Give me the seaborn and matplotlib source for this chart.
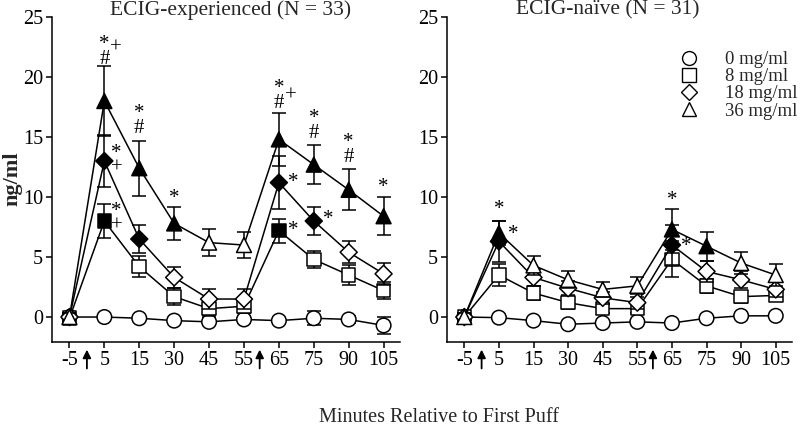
import numpy as np
import pandas as pd
import matplotlib
matplotlib.use("Agg")
import matplotlib.pyplot as plt
from matplotlib.lines import Line2D
import seaborn as sns

# ---------------- data ----------------
time_labels = ["-5", "5", "15", "30", "45", "55", "65", "75", "90", "105"]
doses = ["0 mg/ml", "8 mg/ml", "18 mg/ml", "36 mg/ml"]
dose_markers = ["o", "s", "D", "^"]

# ECIG-experienced (N = 33)
exp_0 = [0.0, 0.0, -0.1, -0.3, -0.4, -0.2, -0.3, -0.1, -0.2, -0.7]
exp_8 = [-0.1, 8.0, 4.2, 1.7, 0.7, 0.9, 7.2, 4.8, 3.5, 2.2]
exp_18 = [0.0, 13.0, 6.5, 3.3, 1.5, 1.5, 11.2, 8.0, 5.4, 3.6]
exp_36 = [0.0, 18.0, 12.4, 7.8, 6.2, 6.0, 14.8, 12.7, 10.6, 8.4]
exp_0_err = [0.2, 0.2, 0.2, 0.2, 0.3, 0.3, 0.2, 0.6, 0.3, 0.7]
exp_8_err = [0.3, 1.4, 0.9, 0.7, 0.6, 0.6, 1.0, 0.7, 0.8, 0.7]
exp_18_err = [0.3, 2.2, 1.2, 0.9, 0.8, 0.8, 2.2, 1.2, 0.9, 0.9]
exp_36_err = [0.3, 2.9, 2.3, 1.4, 1.1, 1.1, 2.2, 1.6, 1.7, 1.6]
exp_0_sig = [0, 0, 0, 0, 0, 0, 0, 0, 0, 0]
exp_8_sig = [0, 1, 0, 0, 0, 0, 1, 0, 0, 0]
exp_18_sig = [0, 1, 1, 0, 0, 0, 1, 1, 0, 0]
exp_36_sig = [0, 1, 1, 1, 0, 0, 1, 1, 1, 1]

# ECIG-naive (N = 31)
nai_0 = [0.0, -0.05, -0.3, -0.6, -0.5, -0.4, -0.5, -0.1, 0.1, 0.1]
nai_8 = [0.0, 3.5, 2.0, 1.2, 0.7, 0.7, 4.8, 2.6, 1.7, 1.8]
nai_18 = [0.0, 6.3, 3.3, 2.4, 1.6, 1.2, 6.0, 3.8, 3.1, 2.3]
nai_36 = [0.0, 7.0, 4.3, 3.1, 2.3, 2.6, 7.3, 5.9, 4.5, 3.5]
nai_0_err = [0.2, 0.2, 0.2, 0.2, 0.2, 0.2, 0.2, 0.2, 0.2, 0.2]
nai_8_err = [0.3, 0.9, 0.6, 0.5, 0.4, 0.4, 1.5, 0.6, 0.5, 0.5]
nai_18_err = [0.3, 1.7, 0.7, 0.6, 0.5, 0.5, 1.7, 0.9, 0.7, 0.6]
nai_36_err = [0.3, 1.0, 0.8, 0.7, 0.6, 0.7, 1.7, 1.2, 0.9, 0.9]
nai_0_sig = [0, 0, 0, 0, 0, 0, 0, 0, 0, 0]
nai_8_sig = [0, 0, 0, 0, 0, 0, 0, 0, 0, 0]
nai_18_sig = [0, 1, 0, 0, 0, 0, 1, 0, 0, 0]
nai_36_sig = [0, 1, 0, 0, 0, 0, 1, 1, 0, 0]

# significance symbols: (time index, y value, symbols stacked top-to-bottom)
exp_ann = [(1, 22.1, "*\n#"), (1.34, 22.4, "+"),
           (1.35, 13.0, "*\n+"),
           (1.35, 8.2, "*\n+"),
           (2, 16.3, "*\n#"),
           (3, 9.9, "*"),
           (6, 18.4, "*\n#"), (6.34, 18.4, "+"),
           (6.4, 11.2, "*"), (6.4, 7.2, "*"),
           (7, 15.9, "*\n#"),
           (7.4, 8.1, "*"),
           (8, 13.9, "*\n#"),
           (9, 10.8, "*")]
nai_ann = [(1, 9.0, "*"), (1.4, 6.9, "*"), (6, 9.7, "*"), (6.4, 5.9, "*")]

arrow_positions = [0.5, 5.45]

panels = [
    ("ECIG-experienced (N = 33)",
     [exp_0, exp_8, exp_18, exp_36],
     [exp_0_err, exp_8_err, exp_18_err, exp_36_err],
     [exp_0_sig, exp_8_sig, exp_18_sig, exp_36_sig], exp_ann),
    ("ECIG-naïve (N = 31)",
     [nai_0, nai_8, nai_18, nai_36],
     [nai_0_err, nai_8_err, nai_18_err, nai_36_err],
     [nai_0_sig, nai_8_sig, nai_18_sig, nai_36_sig], nai_ann),
]

# ---------------- style ----------------
sns.set_style("ticks")
plt.rcParams["font.family"] = ["Liberation Serif", "DejaVu Serif"]
plt.rcParams["axes.linewidth"] = 1.1
plt.rcParams["xtick.major.width"] = 1.1
plt.rcParams["ytick.major.width"] = 1.1
plt.rcParams["xtick.major.size"] = 4.5
plt.rcParams["ytick.major.size"] = 4.5
plt.rcParams["xtick.color"] = "black"
plt.rcParams["ytick.color"] = "black"
plt.rcParams["axes.edgecolor"] = "black"

fig = plt.figure(figsize=(8.0, 4.33), dpi=100)
ax_pos = [[52 / 800, 1 - 342 / 433, 348 / 800, 325 / 433],
          [447 / 800, 1 - 342 / 433, 345 / 800, 325 / 433]]
title_x = [231 / 800, 608 / 800]

msizes = {"o": 110, "s": 95, "D": 75, "^": 115}

for p, (title, vals, errs, sigs, ann) in enumerate(panels):
    ax = fig.add_axes(ax_pos[p])
    idx = np.arange(len(time_labels))
    for k, (dose, mk) in enumerate(zip(doses, dose_markers)):
        z = 2 + 3 * k
        df = pd.DataFrame({"t": idx, "v": vals[k], "e": errs[k],
                           "sig": ["f" if s else "o" for s in sigs[k]]})
        ax.errorbar(df["t"], df["v"], yerr=df["e"], fmt="none", ecolor="black",
                    elinewidth=1.1, capsize=5, capthick=1.1, zorder=z)
        sns.lineplot(data=df, x="t", y="v", ax=ax, color="black", lw=1.1,
                     estimator=None, sort=False, legend=False, zorder=z + 1)
        sns.scatterplot(data=df, x="t", y="v", hue="sig",
                        palette={"f": "black", "o": "white"}, marker=mk,
                        s=msizes[mk], edgecolor="black", linewidth=1.1,
                        ax=ax, legend=False, zorder=z + 2)
    for (xi, yv, sym) in ann:
        ax.text(xi, yv, sym, ha="center", va="center", multialignment="center",
                fontsize=15, linespacing=0.72, color="black", zorder=20)
    for xa in arrow_positions:
        ax.annotate("", xy=(xa, -0.015), xycoords=("data", "axes fraction"),
                    xytext=(xa, -0.09), textcoords=("data", "axes fraction"),
                    arrowprops=dict(arrowstyle="-|>", color="black", lw=1.3,
                                    mutation_scale=12),
                    annotation_clip=False)
    ax.set_xlim(-0.5, 9.47)
    ax.set_ylim(-2.08, 25)
    ax.set_xticks(idx)
    ax.set_xticklabels(time_labels, fontsize=14.5)
    ax.set_yticks([0, 5, 10, 15, 20, 25])
    ax.set_yticklabels(["0", "5", "10", "15", "20", "25"], fontsize=14.5)
    ax.tick_params(axis="both", pad=2)
    ax.set_xlabel("")
    ax.set_ylabel("")
    sns.despine(ax=ax)
    fig.text(title_x[p], 1 - 10 / 433, title, ha="center", va="center",
             fontsize=15.5)
    if p == 1:
        handles = [Line2D([], [], marker=m, ls="none", mfc="white", mec="black",
                          mew=1.0, ms=(10 if m != "D" else 8)) for m in dose_markers]
        ax.legend(handles, doses, loc="upper left",
                  bbox_to_anchor=(680 / 800, 1 - 51 / 433),
                  bbox_transform=fig.transFigure, frameon=False, fontsize=13.5,
                  handlelength=1.0, handletextpad=1.4, labelspacing=0.0,
                  borderpad=0, borderaxespad=0)

fig.text(12 / 800, 1 - 179 / 433, "ng/ml", rotation=90, ha="center",
         va="center", fontsize=16, fontweight="bold")
fig.text(439 / 800, 1 - 418 / 433, "Minutes Relative to First Puff",
         ha="center", va="center", fontsize=14.5)

fig.savefig("out.png", dpi=100)
